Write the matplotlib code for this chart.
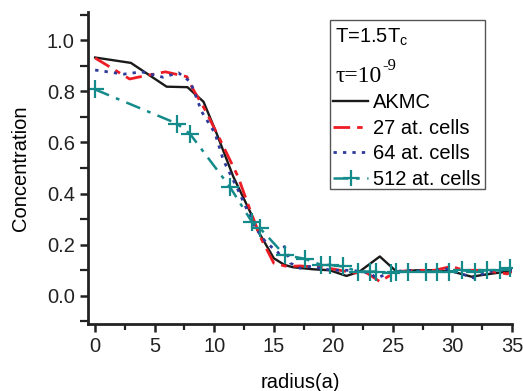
import numpy as np
import matplotlib
matplotlib.use("Agg")
import matplotlib.pyplot as plt
from matplotlib.patches import Rectangle
from matplotlib.ticker import MultipleLocator

plt.rcParams['font.family'] = ['Liberation Sans', 'DejaVu Sans']

# AKMC reference profile
akmc_x = [0, 3.0, 6.0, 7.75, 9.1, 10.2, 11.6, 13.1, 13.6, 15.0, 15.9, 16.6, 18.3,
          19.7, 21.1, 22.2, 23.9, 25.3, 27.0, 28.5, 30.0, 31.6, 33.0, 34.6, 35.0]
akmc_y = [0.932, 0.911, 0.818, 0.816, 0.759, 0.635, 0.466, 0.32, 0.26, 0.147, 0.121, 0.112, 0.104,
          0.100, 0.078, 0.095, 0.154, 0.095, 0.100, 0.100, 0.095, 0.075, 0.085, 0.095, 0.100]

# 27 atom cells
c27_x = [0, 2.9, 3.6, 5.9, 7.7, 8.2, 9.2, 10.5, 12.0, 12.7, 13.85, 15.0, 16.1, 17.2,
         19.4, 21.7, 22.8, 23.9, 25.3, 27.0, 28.5, 29.9, 31.0, 32.5, 34.6, 35.0]
c27_y = [0.930, 0.848, 0.855, 0.876, 0.857, 0.810, 0.730, 0.610, 0.466, 0.375, 0.232, 0.128, 0.115, 0.117,
         0.110, 0.090, 0.090, 0.056, 0.095, 0.100, 0.100, 0.115, 0.100, 0.100, 0.086, 0.095]

# 64 atom cells
c64_x = [0, 2.4, 3.9, 5.7, 7.0, 8.0, 8.95, 10.07, 10.77, 12.0, 13.4, 14.3, 15.4, 15.9,
         16.4, 17.2, 18.0, 19.9, 21.5, 23.1, 23.6, 25.0, 26.5, 28.0, 29.5, 30.5, 31.8,
         33.0, 34.5, 35.0]
c64_y = [0.883, 0.867, 0.876, 0.855, 0.872, 0.837, 0.720, 0.635, 0.530, 0.414, 0.270, 0.212, 0.167, 0.193,
         0.128, 0.108, 0.115, 0.100, 0.100, 0.090, 0.069, 0.095, 0.100, 0.095, 0.105, 0.090, 0.070,
         0.095, 0.100, 0.100]

# 512 atom cells
c512_x = [0, 6.85, 7.97, 11.3, 13.15, 13.85, 15.9, 17.6, 19.0, 19.7, 20.8, 22.1, 23.1,
          23.6, 24.8, 25.3, 26.3, 27.8, 28.7, 29.7, 30.8, 31.9, 32.9, 34.0, 34.8]
c512_y = [0.807, 0.674, 0.633, 0.427, 0.290, 0.264, 0.160, 0.145, 0.121, 0.121, 0.115, 0.095, 0.095,
          0.095, 0.089, 0.095, 0.095, 0.095, 0.095, 0.095, 0.100, 0.095, 0.100, 0.100, 0.108]

fs = 14.5
W, H = 5.23, 3.91
fig = plt.figure(figsize=(W, H), dpi=100)
ax = fig.add_axes([88/523, 67/391, 424/523, 312/391])

ax.plot(akmc_x, akmc_y, color='#1a1a1a', lw=1.7, label='AKMC')
ax.plot(c27_x, c27_y, color='#ee1c25', lw=2.0, ls=(0, (6, 2.5, 2, 2.5)), label='27 at. cells')
ax.plot(c64_x, c64_y, color='#2e3a9a', lw=2.0, ls=(0, (1.2, 2.2)), label='64 at. cells')
ax.plot(c512_x, c512_y, color='#158a8a', lw=1.8, ls=(0, (6, 3, 1.5, 3)),
        marker='+', ms=13, mew=1.6, label='512 at. cells')

ax.set_xlim(-0.6, 35)
ax.set_ylim(-0.11, 1.11)
ax.xaxis.set_major_locator(MultipleLocator(5))
ax.xaxis.set_minor_locator(MultipleLocator(2.5))
ax.yaxis.set_major_locator(MultipleLocator(0.2))
ax.yaxis.set_minor_locator(MultipleLocator(0.1))
ax.yaxis.set_major_formatter(matplotlib.ticker.FormatStrFormatter('%.1f'))

for s in ['top', 'right']:
    ax.spines[s].set_visible(False)
for s in ['left', 'bottom']:
    ax.spines[s].set_linewidth(2)
    ax.spines[s].set_color('#222222')
ax.tick_params(which='major', direction='out', length=6, width=1.8, labelsize=fs, colors='#222222')
ax.tick_params(which='minor', direction='out', length=4, width=1.6, colors='#222222')
ax.tick_params(axis='y', which='minor', length=6)

ax.set_xlabel('radius(a)', fontsize=fs, labelpad=12)
ax.set_ylabel('Concentration', fontsize=fs, labelpad=12)

# legend box with the two header lines
ax.add_patch(Rectangle((0.571, 0.433), 0.365, 0.541, transform=ax.transAxes,
                       fill=False, lw=1.0, ec='#555555', zorder=5))
ax.text(0.583, 0.92, 'T=1.5T$_{\\mathregular{c}}$', transform=ax.transAxes,
        fontsize=fs, va='center', ha='left')
tau = ax.text(0.583, 0.775, 'τ=10', transform=ax.transAxes,
              fontsize=17, va='baseline', ha='left', family=['Liberation Serif', 'DejaVu Serif'])
fig.canvas.draw()
bb = tau.get_window_extent()
base_px = ax.transAxes.transform((0, 0.775))[1]
fig.text((bb.x1 + 0.5) / (W * 100), (base_px + 12) / (H * 100), '-9', fontsize=12,
         va='baseline', ha='left', family=['Liberation Serif', 'DejaVu Serif'])

ax.legend(loc='upper left', bbox_to_anchor=(0.578, 0.74), frameon=False, fontsize=fs,
          handlelength=1.75, handletextpad=0.25, labelspacing=0.33,
          borderpad=0, borderaxespad=0, markerscale=0.9)

fig.savefig('out.png', dpi=100)
